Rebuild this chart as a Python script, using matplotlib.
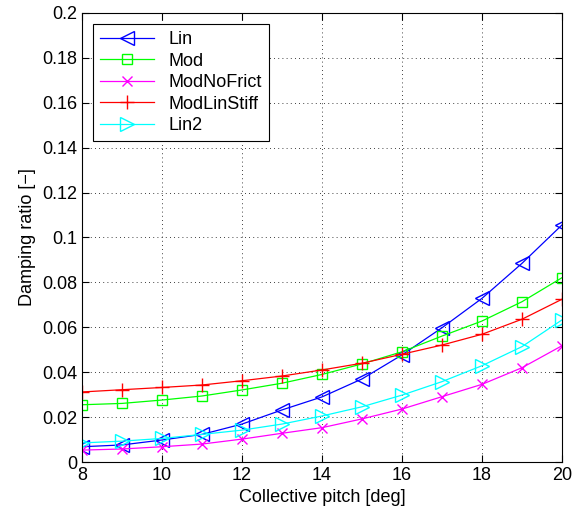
import numpy as np
import matplotlib.pyplot as plt

plt.rcParams['font.family'] = ['Liberation Sans', 'DejaVu Sans']

pitch = np.arange(8, 21)
lin = [0.0068, 0.0076, 0.0098, 0.0123, 0.0169, 0.0232, 0.029, 0.037, 0.0477, 0.0598, 0.0729, 0.0885, 0.1056]
mod = [0.0255, 0.0261, 0.0276, 0.0294, 0.0321, 0.0351, 0.039, 0.0437, 0.0491, 0.0561, 0.0628, 0.0714, 0.0821]
mod_nofrict = [0.0053, 0.0058, 0.0068, 0.008, 0.0102, 0.0128, 0.0153, 0.0192, 0.0236, 0.0291, 0.0346, 0.042, 0.0518]
mod_linstiff = [0.0312, 0.0322, 0.0332, 0.0343, 0.0362, 0.0383, 0.041, 0.044, 0.048, 0.0521, 0.0569, 0.0636, 0.0725]
lin2 = [0.0085, 0.0093, 0.0105, 0.0123, 0.0142, 0.0169, 0.0205, 0.0246, 0.0298, 0.0358, 0.0429, 0.0514, 0.0633]

fig = plt.figure(figsize=(5.8, 5.13), dpi=100)
ax = fig.add_axes([0.1414, 0.0994, 0.8276, 0.8753])

ax.plot(pitch, lin, color='#0000ff', marker='<', mfc='none', ms=9.5, lw=0.9, label='Lin')
ax.plot(pitch, mod, color='#00ff00', marker='s', mfc='none', ms=7.5, lw=0.9, label='Mod')
ax.plot(pitch, mod_nofrict, color='#ff00ff', marker='x', ms=6.5, lw=0.9, label='ModNoFrict')
ax.plot(pitch, mod_linstiff, color='#ff0000', marker='+', ms=9.5, lw=0.9, label='ModLinStiff')
ax.plot(pitch, lin2, color='#00ffff', marker='>', mfc='none', ms=9.5, lw=0.9, label='Lin2')

ax.set_xlim(8, 20)
ax.set_ylim(0, 0.2)
ax.set_xticks(np.arange(8, 21, 2))
ax.set_yticks(np.arange(0, 0.201, 0.02))
ax.set_yticklabels(['0', '0.02', '0.04', '0.06', '0.08', '0.1', '0.12', '0.14', '0.16', '0.18', '0.2'])
ax.tick_params(direction='in', top=True, right=True, labelsize=13, length=5)
ax.grid(True, color='black', linestyle=(0, (1, 4)), linewidth=0.6)
ax.set_xlabel('Collective pitch [deg]', fontsize=13)
ax.set_ylabel('Damping ratio [\u2212]', fontsize=13)

leg = ax.legend(loc='upper left', fontsize=13, handlelength=3.0, fancybox=False,
                edgecolor='black', framealpha=1, borderaxespad=0.6, labelspacing=0.25)
leg.get_frame().set_linewidth(0.8)

fig.savefig('out.png', dpi=100)
